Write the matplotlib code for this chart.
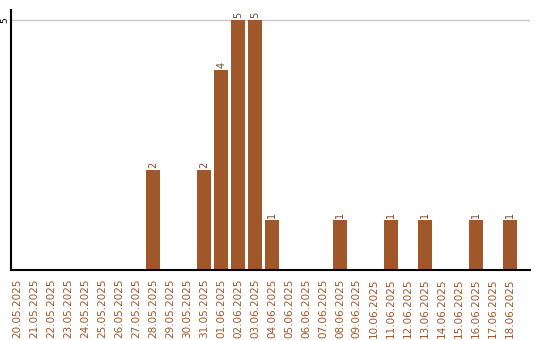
"""Bar chart: daily counts 20.05.2025 - 18.06.2025."""
import matplotlib
matplotlib.use('Agg')
import matplotlib.pyplot as plt
import numpy as np

dates = ['20.05.2025', '21.05.2025', '22.05.2025', '23.05.2025', '24.05.2025',
         '25.05.2025', '26.05.2025', '27.05.2025', '28.05.2025', '29.05.2025',
         '30.05.2025', '31.05.2025', '01.06.2025', '02.06.2025', '03.06.2025',
         '04.06.2025', '05.06.2025', '06.06.2025', '07.06.2025', '08.06.2025',
         '09.06.2025', '10.06.2025', '11.06.2025', '12.06.2025', '13.06.2025',
         '14.06.2025', '15.06.2025', '16.06.2025', '17.06.2025', '18.06.2025']
counts = [0, 0, 0, 0, 0, 0, 0, 0, 2, 0,
          0, 2, 4, 5, 5, 1, 0, 0, 0, 1,
          0, 0, 1, 0, 1, 0, 0, 1, 0, 1]

BROWN = '#A0572A'

fig = plt.figure(figsize=(5.4, 3.4), dpi=100)
ax = fig.add_axes([0.0204, 0.206, 0.961, 0.765])

x = np.arange(len(dates))
ax.bar(x, counts, 0.82, color=BROWN, zorder=2)

for i, c in enumerate(counts):
    if c > 0:
        ax.text(i, c + 0.04, str(c), rotation=90, ha='center', va='bottom',
                fontsize=7, color='#7a4a2a')

ax.set_xlim(-0.38, len(dates) - 1 + 1.2)
ax.set_ylim(0, 5.2)
ax.set_xticks(x)
ax.set_xticklabels(dates, rotation=90, fontsize=7.5, color=BROWN)
ax.tick_params(axis='x', length=0, pad=6)
ax.set_yticks([5])
ax.set_yticklabels(['5'], rotation=90, fontsize=6.5, va='center')
ax.tick_params(axis='y', length=0, pad=1.5)
ax.yaxis.grid(True, color='#c8c8c8', linewidth=1)
ax.set_axisbelow(True)
for s in ['top', 'right']:
    ax.spines[s].set_visible(False)
ax.spines['left'].set_linewidth(1.5)
ax.spines['bottom'].set_linewidth(1.5)

fig.savefig('out.png', dpi=100)
